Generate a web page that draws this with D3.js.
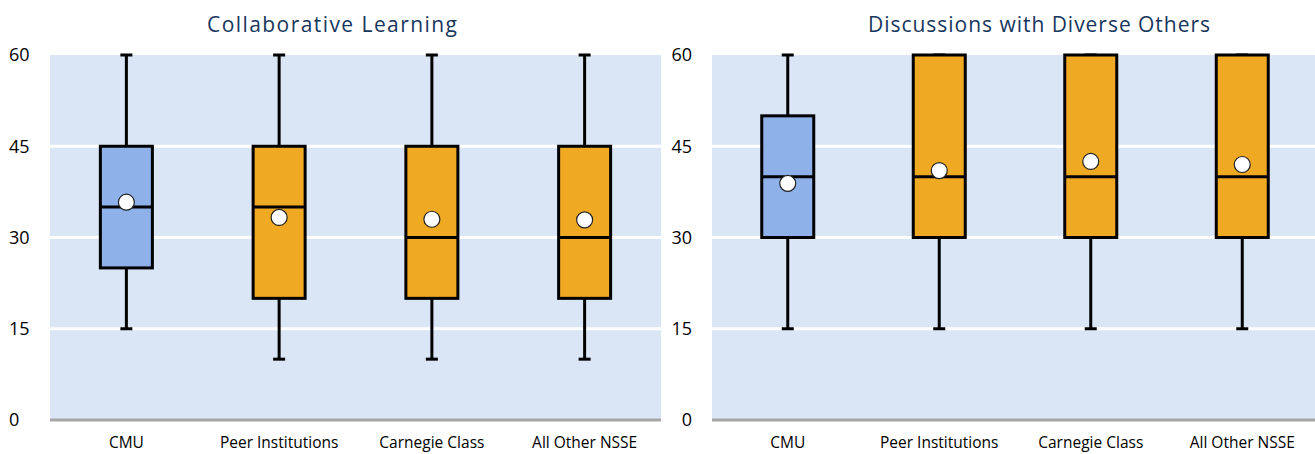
<!DOCTYPE html>
<html>
<head>
<meta charset="utf-8">
<script src="https://cdn.jsdelivr.net/npm/d3@7"></script>
<style>
  html, body { margin: 0; padding: 0; background: #ffffff; }
  svg { display: block; font-family: "Open Sans", "Noto Sans", sans-serif; }
</style>
</head>
<body>
<svg id="chart" width="1315" height="454"></svg>
<script>
// Engagement indicator score distributions (box = quartiles, dot = mean)
const categories = ["CMU", "Peer Institutions", "Carnegie Class", "All Other NSSE"];
const yTicks = [0, 15, 30, 45, 60];

const clTitle = "Collaborative Learning";
const clMin    = [15, 10, 10, 10];
const clQ1     = [25, 20, 20, 20];
const clMedian = [35, 35, 30, 30];
const clQ3     = [45, 45, 45, 45];
const clMax    = [60, 60, 60, 60];
const clMean   = [35.8, 33.3, 33.0, 32.9];

const ddTitle = "Discussions with Diverse Others";
const ddMin    = [15, 15, 15, 15];
const ddQ1     = [30, 30, 30, 30];
const ddMedian = [40, 40, 40, 40];
const ddQ3     = [50, 60, 60, 60];
const ddMax    = [60, 60, 60, 60];
const ddMean   = [38.9, 41.0, 42.5, 42.0];

const boxColors = ["#8EB1EA", "#EFA923", "#EFA923", "#EFA923"];

const svg = d3.select("#chart");

function buildRows(mins, q1s, meds, q3s, maxs, means) {
  return categories.map((c, i) => ({
    cat: c, min: mins[i], q1: q1s[i], median: meds[i], q3: q3s[i], max: maxs[i], mean: means[i], color: boxColors[i]
  }));
}

function drawPanel(opts) {
  const { rows, title, x0, x1, titleX, titleW, labelSide } = opts;
  const yTop = 55, yBottom = 420;

  const x = d3.scaleBand().domain(categories).range([x0, x1]).padding(0);
  const y = d3.scaleLinear().domain([0, 60]).range([yBottom, yTop]);
  const g = svg.append("g");

  // plot background
  g.append("rect")
    .attr("x", x0).attr("y", y(60))
    .attr("width", x1 - x0).attr("height", y(0) - y(60))
    .attr("fill", "#DAE5F6");

  // horizontal gridlines
  g.selectAll("line.grid")
    .data(yTicks.filter(t => t > 0 && t < 60))
    .join("line")
    .attr("class", "grid")
    .attr("x1", x0).attr("x2", x1)
    .attr("y1", d => y(d)).attr("y2", d => y(d))
    .attr("stroke", "#ffffff").attr("stroke-width", 3);

  // baseline
  g.append("line")
    .attr("x1", x0).attr("x2", x1)
    .attr("y1", y(0)).attr("y2", y(0))
    .attr("stroke", "#A6A6A6").attr("stroke-width", 3);

  // y axis labels
  const yAxis = d3.axisLeft(y).tickValues(yTicks).tickFormat(d3.format("d")).tickSize(0).tickPadding(20);
  const ya = g.append("g").attr("transform", `translate(${x0},0)`).call(yAxis);
  ya.select(".domain").remove();
  ya.selectAll("text")
    .attr("font-family", "\"Open Sans\", sans-serif")
    .attr("font-size", 18)
    .attr("fill", "#000");
  if (labelSide === "start") {
    ya.selectAll("text").attr("text-anchor", "start").attr("x", 9 - x0);
  }

  // x axis category labels
  const xAxis = d3.axisBottom(x).tickSize(0).tickPadding(17);
  const xa = g.append("g").attr("transform", `translate(0,${y(0)})`).call(xAxis);
  xa.select(".domain").remove();
  xa.selectAll("text")
    .attr("font-family", "\"Open Sans\", sans-serif")
    .attr("font-size", 15.5)
    .attr("fill", "#000");

  const boxW = 52, capW = 12;
  const cx = d => x(d.cat) + x.bandwidth() / 2;

  const b = g.selectAll("g.box").data(rows).join("g").attr("class", "box");

  // whiskers
  b.append("line")
    .attr("x1", cx).attr("x2", cx)
    .attr("y1", d => y(d.max)).attr("y2", d => y(d.q3))
    .attr("stroke", "#000").attr("stroke-width", 3);
  b.append("line")
    .attr("x1", cx).attr("x2", cx)
    .attr("y1", d => y(d.q1)).attr("y2", d => y(d.min))
    .attr("stroke", "#000").attr("stroke-width", 3);
  // whisker caps
  b.append("line")
    .attr("x1", d => cx(d) - capW / 2).attr("x2", d => cx(d) + capW / 2)
    .attr("y1", d => y(d.max)).attr("y2", d => y(d.max))
    .attr("stroke", "#000").attr("stroke-width", 3);
  b.append("line")
    .attr("x1", d => cx(d) - capW / 2).attr("x2", d => cx(d) + capW / 2)
    .attr("y1", d => y(d.min)).attr("y2", d => y(d.min))
    .attr("stroke", "#000").attr("stroke-width", 3);

  // interquartile box
  b.append("rect")
    .attr("x", d => cx(d) - boxW / 2).attr("width", boxW)
    .attr("y", d => y(d.q3)).attr("height", d => y(d.q1) - y(d.q3))
    .attr("fill", d => d.color)
    .attr("stroke", "#000").attr("stroke-width", 3);

  // median
  b.append("line")
    .attr("x1", d => cx(d) - boxW / 2).attr("x2", d => cx(d) + boxW / 2)
    .attr("y1", d => y(d.median)).attr("y2", d => y(d.median))
    .attr("stroke", "#000").attr("stroke-width", 3);

  // mean marker
  b.append("circle")
    .attr("cx", cx).attr("cy", d => y(d.mean)).attr("r", 8)
    .attr("fill", "#ffffff").attr("stroke", "#222").attr("stroke-width", 1.2);

  // title
  svg.append("text")
    .attr("x", titleX).attr("y", 32)
    .attr("text-anchor", "middle")
    .attr("font-family", "\"Open Sans\", sans-serif")
    .attr("font-size", 21)
    .attr("textLength", titleW)
    .attr("lengthAdjust", "spacing")
    .attr("fill", "#17365D")
    .text(title);
}

drawPanel({
  rows: buildRows(clMin, clQ1, clMedian, clQ3, clMax, clMean),
  title: clTitle, x0: 50, x1: 661, titleX: 332, titleW: 250, labelSide: "start"
});
drawPanel({
  rows: buildRows(ddMin, ddQ1, ddMedian, ddQ3, ddMax, ddMean),
  title: ddTitle, x0: 712, x1: 1318, titleX: 1039, titleW: 342, labelSide: "end"
});
</script>
</body>
</html>
